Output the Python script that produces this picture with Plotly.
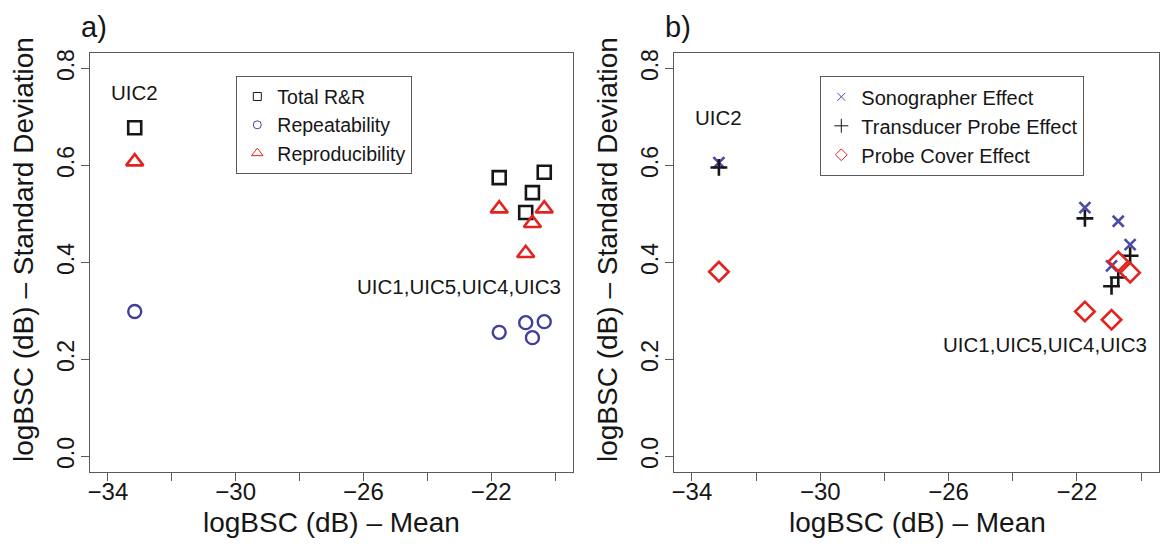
import plotly.graph_objects as go

# ---- data ----
uic_labels = ["UIC2", "UIC1", "UIC5", "UIC4", "UIC3"]
mean_db = [-33.16, -21.75, -20.92, -20.71, -20.34]

total_rr = [0.678, 0.575, 0.503, 0.544, 0.586]
repeatability = [0.299, 0.256, 0.276, 0.245, 0.278]
reproducibility = [0.608, 0.511, 0.419, 0.481, 0.511]

sonographer = [0.606, 0.513, 0.393, 0.485, 0.437]
transducer = [0.596, 0.491, 0.351, 0.369, 0.414]
probe_cover = [0.381, 0.299, 0.282, 0.402, 0.379]

x_tick_vals = [-34, -32, -30, -28, -26, -24, -22, -20]
x_tick_text = ["\u221234", "", "\u221230", "", "\u221226", "", "\u221222", ""]
y_tick_vals = [0.0, 0.2, 0.4, 0.6, 0.8]
y_tick_text = ["0.0", "0.2", "0.4", "0.6", "0.8"]

FONT = "Liberation Sans, Arial, Helvetica, sans-serif"
BLACK = "#161616"
BLUE = "#3f3f9c"
BLUE_X = "#4c4ca6"
RED = "#e2231f"
AX = "#5a5a5a"
W, H = 1160, 549

fig = go.Figure()

# ---- panel a ----
fig.add_trace(go.Scatter(x=mean_db, y=total_rr, mode="markers", showlegend=False,
                         marker=dict(symbol="square-open", size=13, color=BLACK,
                                     line=dict(width=2.6, color=BLACK)),
                         xaxis="x", yaxis="y"))
fig.add_trace(go.Scatter(x=mean_db, y=repeatability, mode="markers", showlegend=False,
                         marker=dict(symbol="circle-open", size=13, color=BLUE,
                                     line=dict(width=2.4, color=BLUE)),
                         xaxis="x", yaxis="y"))
fig.add_trace(go.Scatter(x=mean_db, y=reproducibility, mode="markers", showlegend=False,
                         marker=dict(symbol="triangle-up-open", size=15, color=RED,
                                     line=dict(width=2.6, color=RED)),
                         xaxis="x", yaxis="y"))

# ---- panel b ----
fig.add_trace(go.Scatter(x=mean_db, y=sonographer, mode="markers", showlegend=False,
                         marker=dict(symbol="x-thin-open", size=11, color=BLUE_X,
                                     line=dict(width=2.6, color=BLUE_X)),
                         xaxis="x2", yaxis="y2"))
fig.add_trace(go.Scatter(x=mean_db, y=transducer, mode="markers", showlegend=False,
                         marker=dict(symbol="cross-thin-open", size=12, color=BLACK,
                                     line=dict(width=2.6, color=BLACK)),
                         xaxis="x2", yaxis="y2"))
fig.add_trace(go.Scatter(x=mean_db, y=probe_cover, mode="markers", showlegend=False,
                         marker=dict(symbol="diamond-open", size=15, color=RED,
                                     line=dict(width=2.6, color=RED)),
                         xaxis="x2", yaxis="y2"))

# ---- legend entries (thin symbols as in the reference legend) ----
legend_a = [("Total R&R", "square-open", BLACK, 8),
            ("Repeatability", "circle-open", BLUE, 8),
            ("Reproducibility", "triangle-up-open", RED, 10)]
for name, sym, col, sz in legend_a:
    fig.add_trace(go.Scatter(x=[None], y=[None], mode="markers", name=name, legend="legend",
                             marker=dict(symbol=sym, size=sz, color=col, line=dict(width=1, color=col)),
                             xaxis="x", yaxis="y"))
legend_b = [("Sonographer Effect", "x-thin-open", BLUE_X, 8),
            ("Transducer Probe Effect", "cross-thin-open", BLACK, 10),
            ("Probe Cover Effect", "diamond-open", RED, 9)]
for name, sym, col, sz in legend_b:
    fig.add_trace(go.Scatter(x=[None], y=[None], mode="markers", name=name, legend="legend2",
                             marker=dict(symbol=sym, size=sz, color=col, line=dict(width=1, color=col)),
                             xaxis="x2", yaxis="y2"))

xa = dict(range=[-34.56, -19.44], tickvals=x_tick_vals, ticktext=x_tick_text,
          ticks="outside", ticklen=8, tickwidth=1.3, tickcolor=AX,
          ticklabelstandoff=-10,
          showline=True, linecolor=AX, linewidth=1.3, mirror=True,
          showgrid=False, zeroline=False, automargin=False,
          tickfont=dict(family=FONT, size=24, color=BLACK))
ya = dict(range=[-0.032, 0.832], tickvals=y_tick_vals, ticktext=y_tick_text,
          ticks="outside", ticklen=8, tickwidth=1.3, tickcolor=AX, tickangle=-90,
          ticklabelstandoff=-2,
          showline=True, linecolor=AX, linewidth=1.3, mirror=True,
          showgrid=False, zeroline=False, automargin=False,
          tickfont=dict(family=FONT, size=23, color=BLACK))

ydom = [1 - 472 / H, 1 - 53 / H]
fig.update_layout(
    width=W, height=H, autosize=False,
    margin=dict(l=0, r=0, t=0, b=0),
    paper_bgcolor="white", plot_bgcolor="white",
    font=dict(family=FONT, color=BLACK),
    xaxis=dict(xa, domain=[90 / W, 573 / W], anchor="y"),
    yaxis=dict(ya, domain=ydom, anchor="x"),
    xaxis2=dict(xa, domain=[674 / W, 1159 / W], anchor="y2"),
    yaxis2=dict(ya, domain=ydom, anchor="x2"),
    legend=dict(x=236 / W, y=1 - 76 / H, xanchor="left", yanchor="top",
                bordercolor=AX, borderwidth=1.3, bgcolor="white",
                font=dict(family=FONT, size=19.5, color=BLACK)),
    legend2=dict(x=820 / W, y=1 - 76 / H, xanchor="left", yanchor="top",
                 bordercolor=AX, borderwidth=1.3, bgcolor="white",
                 font=dict(family=FONT, size=20, color=BLACK)),
)

def note(text, x, y, xref="paper", yref="paper", size=28, angle=0):
    return dict(text=text, x=x, y=y, xref=xref, yref=yref, showarrow=False,
                xanchor="center", yanchor="middle", textangle=angle,
                font=dict(size=size, family=FONT, color=BLACK))

ann = []
# panel labels
ann.append(note("a)", 94 / W, 1 - 27 / H, size=29))
ann.append(note("b)", 678 / W, 1 - 27 / H, size=29))
# axis titles
for cx, ycx in [(331, 23), (917, 607)]:
    ann.append(note("logBSC (dB) \u2013 Mean", cx / W, 1 - 522 / H))
    ann.append(note("logBSC (dB) \u2013 Standard Deviation", ycx / W, 1 - 250 / H, angle=-90))
# point-group labels
ann.append(note(uic_labels[0], mean_db[0], 0.75, "x", "y", size=20.5))
ann.append(note(",".join(uic_labels[1:]), -23.0, 0.35, "x", "y", size=20.5))
ann.append(note(uic_labels[0], mean_db[0], 0.699, "x2", "y2", size=20.5))
ann.append(note(",".join(uic_labels[1:]), -23.0, 0.231, "x2", "y2", size=20.5))
fig.update_layout(annotations=ann)

fig.write_html("out.html")
